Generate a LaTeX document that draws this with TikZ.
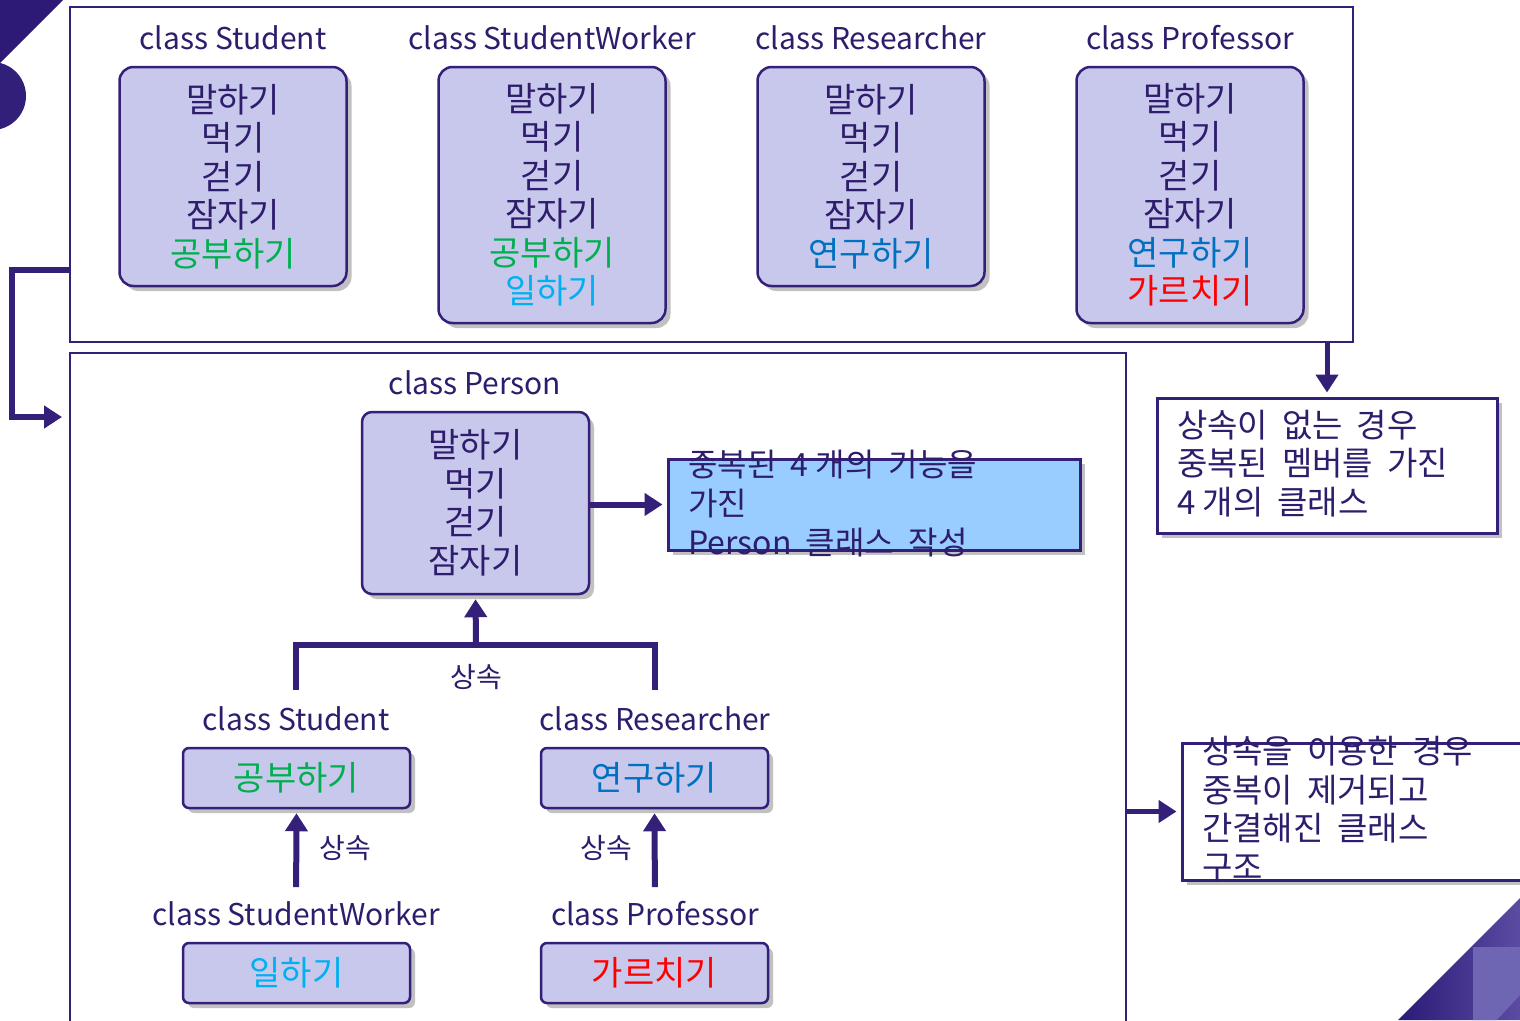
\documentclass[tikz,border=0pt]{standalone}
\usepackage{fontspec}
\setmainfont{Noto Sans CJK KR}
\usetikzlibrary{shadows,arrows.meta,calc}
\definecolor{linec}{HTML}{342078}
\definecolor{textc}{HTML}{2E1C6C}
\definecolor{boxfill}{HTML}{C8C8EC}
\definecolor{lblue}{HTML}{99CCFF}
\definecolor{kgreen}{HTML}{00B050}
\definecolor{kcyan}{HTML}{00B0F0}
\definecolor{kblue}{HTML}{0070C0}
\definecolor{kred}{HTML}{FF0000}
\definecolor{decodark}{HTML}{2C1A76}
\definecolor{decomid}{HTML}{5C4CA2}
\definecolor{decolight}{HTML}{6E66B2}
\newcommand\notefont{\fontsize{33}{38.5}\selectfont\spaceskip=0.42em\relax}
\newcommand\lbfont{\fontsize{32}{39}\selectfont\spaceskip=0.45em\relax}
\newcommand\nsp{\hspace{0.22em}}
\begin{document}
\begin{tikzpicture}[x=1pt,y=-1pt,
  lbl/.style={text=textc,font=\fontsize{30}{34}\selectfont,inner sep=0pt},
  small/.style={text=textc,font=\fontsize{28}{30}\selectfont,inner sep=0pt},
  shd/.style={drop shadow={shadow xshift=5pt,shadow yshift=-5pt,opacity=0.35,fill=black!70}},
  cbox/.style={draw=linec,line width=2.5pt,fill=boxfill,rounded corners=14pt,align=center,
    text=textc,font=\fontsize{34}{38.5}\selectfont,inner sep=0pt,shd},
  sbox/.style={cbox,rounded corners=6pt,minimum width=227pt,minimum height=60pt},
  frame/.style={draw=linec,line width=2pt,inner sep=0pt},
  note/.style={draw=linec,line width=3pt,fill=white,inner sep=0pt,shd},
  notetext/.style={text=textc,font=\notefont,align=left,inner sep=0pt,anchor=west},
  conn/.style={draw=linec,line width=6pt},
  arr/.style={conn,-{Triangle[length=18pt,width=22pt]}}
]
\useasboundingbox (0,0) rectangle (1520,1020);
\clip (0,0) rectangle (1520,1020);

% decorations
\fill[decodark] (0,0) -- (63,0) -- (0,63) -- cycle;
\fill[decodark!90!decomid] (-8,96) circle (34);
\begin{scope}
  \clip (1398,1020) -- (1522,896) -- (1522,1020) -- cycle;
  \shade[left color=decodark,right color=decomid] (1398,896) rectangle (1522,1022);
  \fill[decolight] (1473,947) -- (1522,947) -- (1522,993) -- (1495,1022) -- (1473,1022) -- cycle;
\end{scope}

% frames
\node[frame,minimum width=1283pt,minimum height=335pt] (topframe) at (711.5,174.5) {};
\node[frame,minimum width=1056pt,minimum height=707pt] (botframe) at (598,706.5) {};

% top classes
\node[lbl] (tl1) at (233,38) {class Student};
\node[lbl] (tl2) at (552,38) {class StudentWorker};
\node[lbl] (tl3) at (871,38) {class Researcher};
\node[lbl] (tl4) at (1190,38) {class Professor};

\node[cbox,minimum width=227pt,minimum height=219pt] (tstu) at (233,176.5)
  {말하기\\먹기\\걷기\\잠자기\\\textcolor{kgreen}{공부하기}};
\node[cbox,minimum width=227pt,minimum height=256pt] (tsw) at (552,195)
  {말하기\\먹기\\걷기\\잠자기\\\textcolor{kgreen}{공부하기}\\\textcolor{kcyan}{일하기}};
\node[cbox,minimum width=227pt,minimum height=219pt] (tres) at (871,176.5)
  {말하기\\먹기\\걷기\\잠자기\\\textcolor{kblue}{연구하기}};
\node[cbox,minimum width=227pt,minimum height=256pt] (tpro) at (1190,195)
  {말하기\\먹기\\걷기\\잠자기\\\textcolor{kblue}{연구하기}\\\textcolor{kred}{가르치기}};

% person
\node[lbl] (lper) at (475,383) {class Person};
\node[cbox,rounded corners=10pt,minimum width=227pt,minimum height=182pt] (person) at (475.5,503)
  {말하기\\먹기\\걷기\\잠자기};

\node[draw=linec,line width=3pt,fill=lblue,minimum width=412pt,minimum height=91pt,inner sep=0pt,shd] (lb) at (874,504.5) {};
\node[notetext,font=\lbfont] (lbtext) at (688,504) {중복된 4\nsp{}개의 기능을\\가진\\Person 클래스 작성};
\draw[arr,shorten >=4pt] (person.east |- lb.west) -- (lb.west);

% tree
\node[lbl] (lstu) at (296,719) {class Student};
\node[lbl] (lres) at (655,719) {class Researcher};
\node[sbox] (bstu) at (296.5,778) {\textcolor{kgreen}{공부하기}};
\node[sbox] (bres) at (654.5,778) {\textcolor{kblue}{연구하기}};
\node[lbl] (lsw) at (296,914) {class StudentWorker};
\node[lbl] (lpro) at (655,914) {class Professor};
\node[sbox] (bsw) at (296.5,973) {\textcolor{kcyan}{일하기}};
\node[sbox] (bpro) at (654.5,973) {\textcolor{kred}{가르치기}};

\coordinate (junc) at (476,645);
\draw[conn,shorten <=29pt,shorten >=29pt] (lstu.center) |- (junc) -| (lres.center);
\draw[arr,shorten >=4pt] (junc) -- (person.south);
\node[small] (inh1) at (476,677) {상속};

\draw[arr,shorten <=27pt,shorten >=4pt] (lsw.center) -- (bstu.south);
\draw[arr,shorten <=27pt,shorten >=4pt] (lpro.center) -- (bres.south);
\node[small] (inh2) at (345,848) {상속};
\node[small] (inh3) at (606,848) {상속};

% right notes
\node[note,minimum width=340pt,minimum height=135pt] (note1) at (1327,465.5) {};
\node[notetext] (note1t) at (1177,463.5) {상속이 없는 경우\\중복된 멤버를 가진\\4\nsp{}개의 클래스};
\draw[arr,line width=5pt,shorten >=4pt] (topframe.south -| note1.north) -- (note1.north);

\node[note,minimum width=378pt,minimum height=137pt] (note2) at (1371,811.5) {};
\node[notetext] (note2t) at (1202,809) {상속을 이용한 경우\\중복이 제거되고\\간결해진 클래스\\구조};
\draw[arr,line width=5pt,shorten >=4pt] (botframe.east |- note2.west) -- (note2.west);

% left connector
\coordinate (lc1) at (70,270);
\coordinate (lc2) at (70,417);
\draw[arr,shorten >=8pt] (lc1) -- ++(-58,0) |- (lc2);
\end{tikzpicture}
\end{document}
